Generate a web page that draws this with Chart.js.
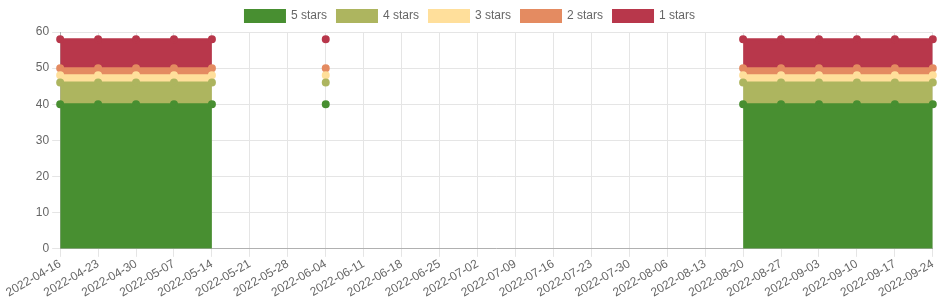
<!DOCTYPE html>
<html>
<head>
<meta charset="utf-8">
<script src="https://cdn.jsdelivr.net/npm/chart.js@4/dist/chart.umd.min.js"></script>
<style>
  html, body { margin: 0; padding: 0; background: #fff; }
  #wrap { width: 940px; height: 300px; }
</style>
</head>
<body>
<div id="wrap"><canvas id="ratingChart"></canvas></div>
<script>
const weeks = [
  "2022-04-16", "2022-04-23", "2022-04-30", "2022-05-07", "2022-05-14", "2022-05-21",
  "2022-05-28", "2022-06-04", "2022-06-11", "2022-06-18", "2022-06-25", "2022-07-02",
  "2022-07-09", "2022-07-16", "2022-07-23", "2022-07-30", "2022-08-06", "2022-08-13",
  "2022-08-20", "2022-08-27", "2022-09-03", "2022-09-10", "2022-09-17", "2022-09-24"
];

const n = null;
const fiveStars = [40, 40, 40, 40, 40, n, n, 40, n, n, n, n, n, n, n, n, n, n, 40, 40, 40, 40, 40, 40];
const fourStars = [6, 6, 6, 6, 6, n, n, 6, n, n, n, n, n, n, n, n, n, n, 6, 6, 6, 6, 6, 6];
const threeStars = [2, 2, 2, 2, 2, n, n, 2, n, n, n, n, n, n, n, n, n, n, 2, 2, 2, 2, 2, 2];
const twoStars = [2, 2, 2, 2, 2, n, n, 2, n, n, n, n, n, n, n, n, n, n, 2, 2, 2, 2, 2, 2];
const oneStars = [8, 8, 8, 8, 8, n, n, 8, n, n, n, n, n, n, n, n, n, n, 8, 8, 8, 8, 8, 8];

const seriesNames = ["5 stars", "4 stars", "3 stars", "2 stars", "1 stars"];
const seriesData = [fiveStars, fourStars, threeStars, twoStars, oneStars];
const seriesColors = ["#488f31", "#adb55f", "#ffdf9b", "#e48b61", "#b8374b"];

Chart.defaults.font.family = "'Liberation Sans', Arial, sans-serif";
Chart.defaults.font.size = 12;
Chart.defaults.color = "#666";

new Chart(document.getElementById("ratingChart"), {
  type: "line",
  data: {
    labels: weeks,
    datasets: seriesData.map((values, i) => ({
      label: seriesNames[i],
      data: values,
      borderColor: seriesColors[i],
      backgroundColor: seriesColors[i],
      pointBackgroundColor: seriesColors[i],
      pointBorderColor: seriesColors[i],
      pointRadius: 3,
      borderWidth: 2,
      tension: 0,
      fill: i === 0 ? "origin" : "-1"
    }))
  },
  options: {
    responsive: true,
    maintainAspectRatio: false,
    animation: false,
    plugins: {
      legend: { position: "top" },
      tooltip: { enabled: false }
    },
    scales: {
      x: {
        grid: { color: "#e5e5e5" },
        border: { color: "#b0b0b0" },
        ticks: { minRotation: 30, maxRotation: 30, autoSkip: false, padding: 0 },
        // the first date label needs a little more room on the left
        afterFit: (scale) => { scale.paddingLeft += 7; }
      },
      y: {
        stacked: true,
        beginAtZero: true,
        grid: { color: "#e5e5e5" },
        border: { color: "#b0b0b0" },
        ticks: { stepSize: 10 }
      }
    }
  }
});
</script>
</body>
</html>
